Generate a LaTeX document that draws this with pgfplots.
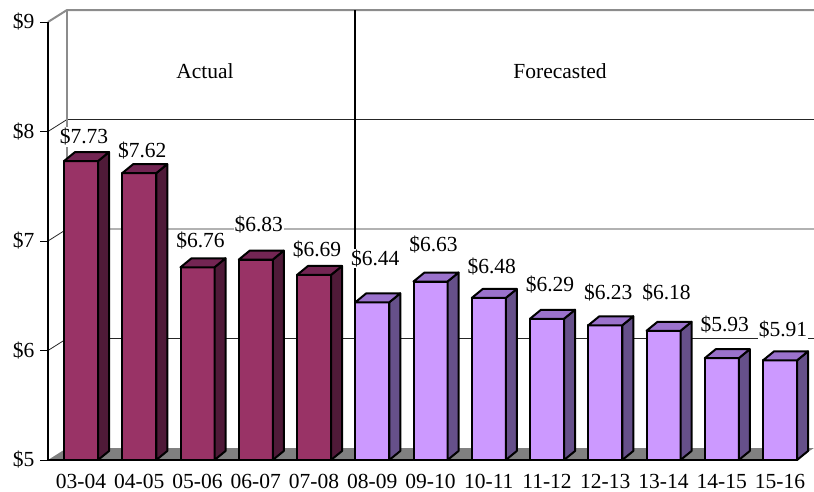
\documentclass[border=0pt]{standalone}
\usepackage{fontspec}
\setmainfont{Liberation Serif}
\usepackage{pgfplots}
\usepackage{pgfplotstable}
\pgfplotsset{compat=1.18}
\newcommand\cf{\fontsize{21.5}{25}\selectfont}
\definecolor{afront}{HTML}{993366}
\definecolor{aside}{HTML}{4F1A38}
\definecolor{atop}{HTML}{732553}
\definecolor{ffront}{HTML}{CC99FF}
\definecolor{fside}{HTML}{66508A}
\definecolor{ftop}{HTML}{9B72CC}
\definecolor{floorgray}{HTML}{808080}
\definecolor{wallgray}{HTML}{8C8C8C}
\pgfdeclareplotmark{nothing}{}

\pgfplotstableread{
x v
0 7.73
1 7.62
2 6.76
3 6.83
4 6.69
}\actual
\pgfplotstableread{
x v
5 6.44
6 6.63
7 6.48
8 6.29
9 6.23
10 6.18
11 5.93
12 5.91
}\forecast
\pgfplotstableread{
x ly lab
0 7.95 \$7.73
1 7.83 \$7.62
2 7.00 \$6.76
3 7.15 \$6.83
4 6.92 \$6.69
5 6.84 \$6.44
6 6.97 \$6.63
7 6.77 \$6.48
8 6.60 \$6.29
9 6.53 \$6.23
10 6.53 \$6.18
11 6.24 \$5.93
12 6.19 \$5.91
}\labels

\pgfplotsset{
  box3d/.style n args={2}{
    scatter, only marks, mark=nothing,
    visualization depends on={y \as \yy},
    scatter/@pre marker code/.code={%
      \begin{scope}
      \pgfmathsetmacro\h{\yy*109.5}%
      \filldraw[fill=#1, draw=black, line width=2pt, line join=round]
        (17pt,0pt) -- (28pt,9pt) -- (28pt,{(9-\h)*1pt}) -- (17pt,{(-\h)*1pt}) -- cycle;
      \filldraw[fill=#2, draw=black, line width=2pt, line join=round]
        (-17pt,0pt) -- (17pt,0pt) -- (28pt,9pt) -- (-6pt,9pt) -- cycle;
    },
    scatter/@post marker code/.code={\end{scope}},
  },
}

\begin{document}
\begin{tikzpicture}[x=1pt,y=1pt]
\useasboundingbox (0pt,0pt) rectangle (814pt,-491pt);
% floor
\fill[floorgray] (48,-460) -- (795,-460) -- (814,-448) -- (67,-448) -- cycle;
% back wall grid lines
\foreach \yy/\ff in {119.5/131.5, 229/241, 338.5/350.5}{
  \draw[black!85, line width=0.8pt] (48,-\ff) -- (67,-\yy) -- (814,-\yy);
}
\draw[wallgray, line width=2pt] (48,-22) -- (67,-10) -- (814,-10);
\draw[wallgray, line width=2pt] (67,-10) -- (67,-448);
\draw[black, line width=1.8pt] (355,-10) -- (355,-448);
\node[font=\cf] at (205,-71) {Actual};
\node[font=\cf] at (560,-71) {Forecasted};

\begin{axis}[
  at={(48pt,-460pt)}, anchor=south west,
  scale only axis, width=747pt, height=438pt,
  xmin=-0.5665, xmax=12.257, ymin=0, ymax=4,
  y filter/.expression={y-5},
  clip=false,
  axis x line*=bottom, axis y line*=left,
  axis line style={-, black, line width=1.2pt},
  ytick={0,1,2,3,4},
  yticklabels={\$5,\$6,\$7,\$8,\$9},
  xtick={0,...,12},
  xticklabels={03-04,04-05,05-06,06-07,07-08,08-09,09-10,10-11,11-12,12-13,13-14,14-15,15-16},
  tick align=outside, major tick length=8pt,
  ytick style={black, line width=1pt},
  xtick style={draw=none},
  every tick label/.append style={font=\cf, text=black},
  yticklabel style={anchor=east, xshift=-2pt},
  xticklabel style={yshift=-2.5pt},
]
\addplot[box3d={aside}{atop}] table[x=x,y=v]{\actual};
\addplot[box3d={fside}{ftop}] table[x=x,y=v]{\forecast};
\addplot[ybar, bar width=34pt, bar shift=0pt, fill=afront, draw=black, line width=2pt, line join=round] table[x=x,y=v]{\actual};
\addplot[ybar, bar width=34pt, bar shift=0pt, fill=ffront, draw=black, line width=2pt, line join=round] table[x=x,y=v]{\forecast};
\addplot[only marks, mark=none, point meta=explicit symbolic,
  nodes near coords,
  nodes near coords style={anchor=center, fill=white, inner sep=1pt, font=\cf, text=black, xshift=3pt}]
  table[x=x,y=ly,meta=lab]{\labels};
\end{axis}
\end{tikzpicture}
\end{document}
